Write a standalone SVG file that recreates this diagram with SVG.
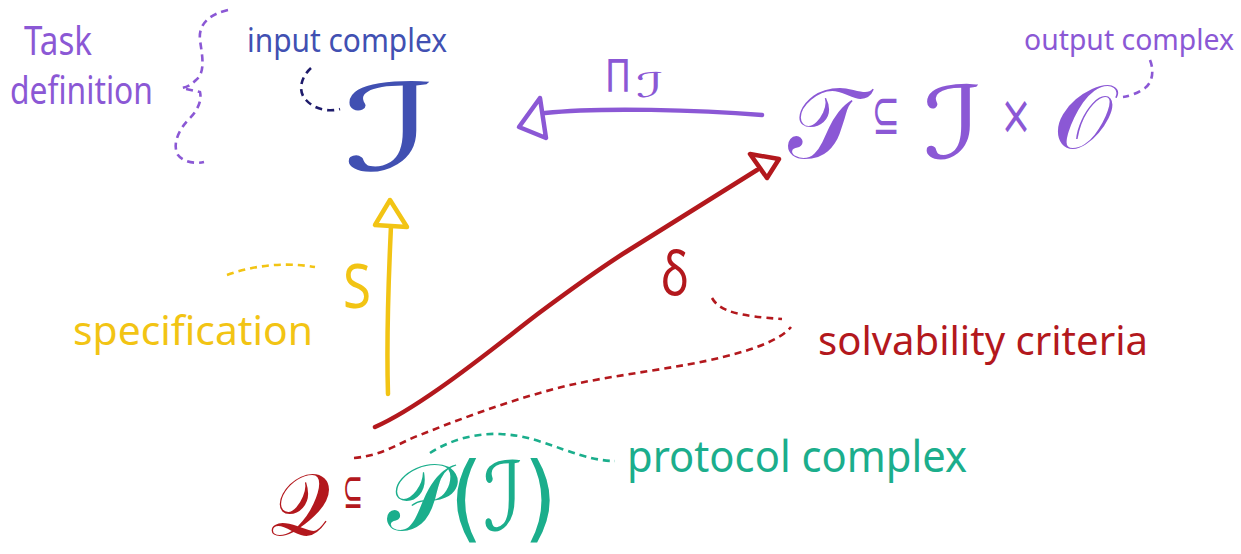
<svg xmlns="http://www.w3.org/2000/svg" width="1241" height="554" viewBox="0 0 1241 554">
<style>
text{font-family:"Noto Sans","DejaVu Sans",sans-serif;}
.m{font-family:"DejaVu Sans","Noto Sans",serif;}
.purple{fill:#8B58D5;}
.blue{fill:#4150B2;}
.yellow{fill:#F2C414;}
.red{fill:#B3181D;}
.teal{fill:#1BAE8C;}
.line{fill:none;stroke-width:4.5;stroke-linecap:round;stroke-linejoin:round;}
.head{fill:#fff;stroke-width:4.5;stroke-linejoin:round;}
.dash{fill:none;stroke-width:2.6;stroke-dasharray:7 5;stroke-linecap:butt;}
</style>
<rect width="1241" height="554" fill="#fff"/>
<g id="connectors">
  <path class="line" stroke="#8B58D5" d="M 762 115 C 700 110, 600 107, 545 113"/>
  <polygon class="head" stroke="#8B58D5" points="540,98 519,127 546,138"/>
  <path class="line" stroke="#B3181D" d="M 375 427 Q 400 416, 440 388 C 480 360, 510 335, 539 313 C 570 290, 600 268, 629 250 L 757 170"/>
  <polygon class="head" stroke="#B3181D" points="750,154 779,159 767,178"/>
  <path class="line" stroke="#F2C414" d="M 388 394 C 386 330, 389 270, 391 226"/>
  <polygon class="head" stroke="#F2C414" points="390,200 375,225 407,227"/>
  <path class="dash" stroke="#8B58D5" d="M 228 10 C 210 14, 198 24, 200 40 C 202 55, 206 72, 196 80 C 192 84, 188 87, 182 88 L 200 92 C 202 100, 198 110, 190 118 C 178 130, 172 145, 178 155 C 183 162, 195 164, 204 162"/>
  <path class="dash" stroke="#1E1B6B" d="M 311 68 C 300 78, 298 92, 306 100 C 315 110, 330 112, 340 109"/>
  <path class="dash" stroke="#8B58D5" d="M 1150 60 C 1154 70, 1153 82, 1145 88 C 1138 93, 1130 96, 1123 97"/>
  <path class="dash" stroke="#F2C414" d="M 227 275 C 255 265, 285 262, 315 267"/>
  <path class="dash" stroke="#B3181D" d="M 712 298 C 720 312, 740 316, 782 319"/>
  <path class="dash" stroke="#B3181D" d="M 354 458 C 385 455, 400 442, 420 435 C 470 415, 520 397, 570 385 C 620 374, 680 368, 723 357 C 760 348, 782 338, 791 327"/>
  <path class="dash" stroke="#1BAE8C" d="M 430 453 C 450 440, 475 433, 500 434 C 525 435, 545 443, 565 450 C 585 457, 600 461, 615 461"/>
</g>
<g id="task-definition">
  <text class="purple" x="24" y="55" font-size="40" textLength="68" lengthAdjust="spacingAndGlyphs">Task</text>
  <text class="purple" x="10" y="104" font-size="38" textLength="143" lengthAdjust="spacingAndGlyphs">definition</text>
</g>
<g id="input-complex-label">
  <text class="blue" x="247" y="52" font-size="32" textLength="200" lengthAdjust="spacingAndGlyphs">input complex</text>
</g>
<g id="input-I">
  <text class="blue m" x="343" y="170" font-size="120" textLength="94" lengthAdjust="spacingAndGlyphs">ℐ</text>
</g>
<g id="output-T">
  <text class="purple m" x="788" y="158" font-size="100" textLength="75" lengthAdjust="spacingAndGlyphs">𝒯</text>
  <text class="purple m" x="872" y="134" font-size="58" textLength="28" lengthAdjust="spacingAndGlyphs">⊆</text>
  <text class="purple m" x="923" y="158" font-size="100" textLength="60" lengthAdjust="spacingAndGlyphs">ℐ</text>
  <text class="purple m" x="1000" y="134" font-size="56" textLength="32" lengthAdjust="spacingAndGlyphs">×</text>
  <text class="purple m" x="1053" y="148" font-size="90" textLength="60" lengthAdjust="spacingAndGlyphs">𝒪</text>
</g>
<g id="output-complex-label">
  <text class="purple" x="1024" y="50" font-size="29" textLength="210" lengthAdjust="spacingAndGlyphs">output complex</text>
</g>
<g id="pi-label">
  <text class="purple m" x="605" y="92" font-size="44" textLength="26" lengthAdjust="spacingAndGlyphs">Π</text>
  <text class="purple m" x="636" y="97" font-size="34" textLength="28" lengthAdjust="spacingAndGlyphs">ℐ</text>
</g>
<g id="specification-label">
  <text class="yellow" x="73" y="345" font-size="40" textLength="240" lengthAdjust="spacingAndGlyphs">specification</text>
  <text class="yellow" x="343" y="308" font-size="62" textLength="28" lengthAdjust="spacingAndGlyphs">S</text>
</g>
<g id="solvability-label">
  <text class="red" x="661" y="295" font-size="60" textLength="28" lengthAdjust="spacingAndGlyphs">δ</text>
  <text class="red" x="818" y="355" font-size="40" textLength="330" lengthAdjust="spacingAndGlyphs">solvability criteria</text>
</g>
<g id="Q-node">
  <text class="red m" x="270" y="535" font-size="88" textLength="60" lengthAdjust="spacingAndGlyphs">𝒬</text>
  <text class="red m" x="343" y="508" font-size="50" textLength="20" lengthAdjust="spacingAndGlyphs">⊆</text>
  <text class="teal m" x="387" y="530" font-size="95" textLength="170" lengthAdjust="spacingAndGlyphs">𝒫(ℐ)</text>
</g>
<g id="protocol-complex-label">
  <text class="teal" x="627" y="472" font-size="44" textLength="340" lengthAdjust="spacingAndGlyphs">protocol complex</text>
</g>
</svg>
